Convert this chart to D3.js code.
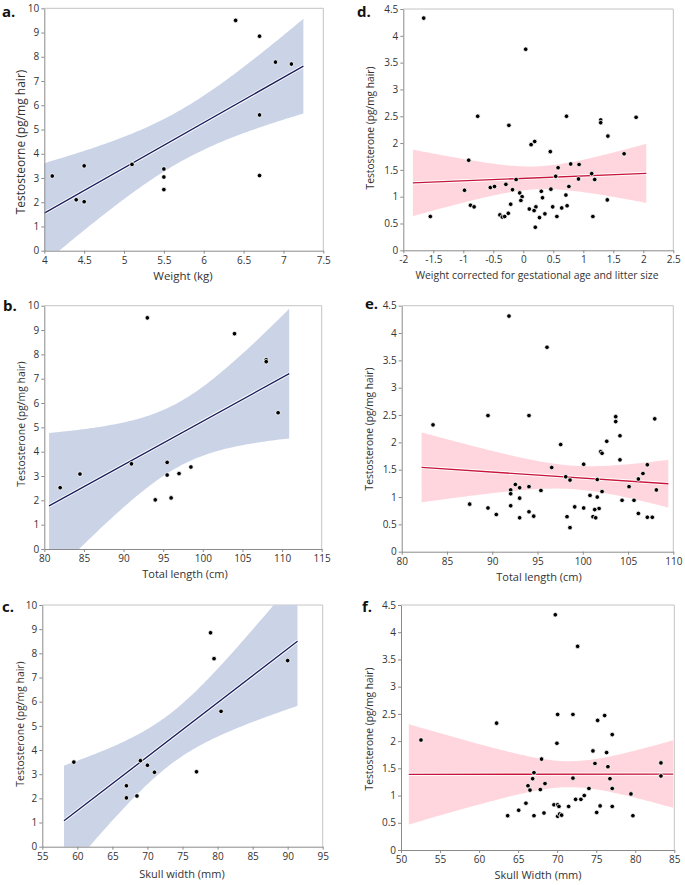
<!DOCTYPE html>
<html>
<head>
<meta charset="utf-8">
<script src="https://cdn.jsdelivr.net/npm/d3@7"></script>
<style>
  html, body { margin: 0; padding: 0; background: #fff; }
  svg text { font-family: "Open Sans", "Noto Sans", sans-serif; }
</style>
</head>
<body>
<svg id="chart" width="685" height="885"></svg>
<script>
// ---------- DATA ----------
// Panel a: weight (kg) vs testosterone
const aX = [4.1, 4.5, 4.4, 4.5, 5.1, 5.5, 5.5, 5.5, 6.4, 6.7, 6.9, 7.1, 6.7, 6.7];
const aY = [3.08, 3.5, 2.1, 2.02, 3.56, 3.37, 3.04, 2.52, 9.5, 8.85, 7.78, 7.7, 5.6, 3.1];
// Panel b: total length (cm)
const bX = [82, 84.5, 91, 93, 94, 95.5, 95.5, 96, 97, 98.5, 104, 108, 108, 109.5];
const bY = [2.52, 3.08, 3.5, 9.5, 2.02, 3.56, 3.04, 2.1, 3.1, 3.37, 8.85, 7.78, 7.7, 5.6];
// Panel c: skull width (mm)
const cX = [59.5, 67, 67, 68.5, 69, 70, 71, 77, 79, 79.5, 80.5, 90];
const cY = [3.5, 2.52, 2.02, 2.1, 3.56, 3.37, 3.08, 3.1, 8.85, 7.78, 5.6, 7.7];
// Panel d: weight corrected for gestational age and litter size
const dX = [-1.66, 0.04, -0.76, -0.24, 0.72, 1.29, 1.29, 1.88, 1.41, 0.13, 0.19, 0.45, 1.68, -0.91,
  0.58, 0.79, 0.93, 1.14, 0.54, 0.92, 1.19, 0.76, 0.30, 0.46, 0.32, 0.71, 0.21, 0.18, 0.49, 0.64,
  0.73, 0.36, 0.27, 0.56, 1.16, 1.40, 0.20, -0.98, -0.55, -0.48, -0.29, -0.12, -0.18, -0.06, -0.02,
  -0.04, -0.21, -0.88, -0.82, -1.55, -0.39, -0.35, -0.31, -0.25, 0.10];
const dY = [4.33, 3.75, 2.5, 2.33, 2.5, 2.43, 2.38, 2.48, 2.13, 1.97, 2.03, 1.84, 1.80, 1.68,
  1.54, 1.61, 1.60, 1.43, 1.38, 1.33, 1.32, 1.19, 1.10, 1.14, 0.98, 1.03, 0.81, 0.74, 0.81, 0.79,
  0.83, 0.68, 0.61, 0.63, 0.63, 0.94, 0.43, 1.12, 1.17, 1.19, 1.23, 1.32, 1.13, 1.07, 1.00,
  0.93, 0.86, 0.84, 0.81, 0.63, 0.66, 0.62, 0.63, 0.69, 0.77];
// Panel e: total length (cm)
const eX = [91.85, 96.05, 83.46, 89.53, 94.06, 103.64, 103.64, 107.95, 104.11, 97.56, 102.65, 101.98,
  102.13, 104.11, 100.1, 107.13, 96.57, 106.65, 98.12, 98.59, 101.6, 106.14, 105.11, 108.13, 95.38,
  102.13, 100.8, 101.6, 104.34, 105.66, 99.11, 100.1, 101.8, 101.32, 106.14, 98.26, 101.13, 101.43,
  107.13, 107.68, 98.59, 92.55, 92.04, 92.04, 93.03, 94.06, 93.03, 87.51, 89.53, 90.45, 92.04,
  93.03, 94.06, 94.58];
const eY = [4.31, 3.74, 2.32, 2.49, 2.49, 2.47, 2.38, 2.43, 2.12, 1.96, 2.02, 1.83,
  1.80, 1.68, 1.60, 1.59, 1.54, 1.43, 1.37, 1.31, 1.32, 1.33, 1.19, 1.13, 1.12,
  1.10, 1.03, 1.00, 0.94, 0.94, 0.82, 0.80, 0.79, 0.77, 0.70, 0.64, 0.64, 0.62,
  0.63, 0.63, 0.44, 1.23, 1.13, 1.06, 1.17, 1.19, 0.98, 0.87, 0.80, 0.68, 0.84,
  0.62, 0.73, 0.65];
// Panel f: skull width (mm)
const fX = [69.76, 72.62, 62.24, 52.56, 70.06, 72.02, 69.97, 68.0, 67.03, 66.86, 72.02, 68.44, 66.26,
  66.52, 67.84, 66.0, 65.07, 63.66, 67.03, 68.31, 69.59, 70.06, 70.23, 70.06, 70.31, 70.57, 71.47,
  72.36, 73.04, 73.47, 74.07, 76.08, 75.18, 77.05, 74.58, 76.33, 74.84, 76.5, 83.29, 83.29, 76.76,
  77.05, 79.45, 75.5, 77.05, 75.06, 79.7];
const fY = [4.32, 3.74, 2.33, 2.02, 2.49, 2.49, 1.96, 1.67, 1.42, 1.31, 1.32, 1.22, 1.18,
  1.10, 1.11, 0.86, 0.73, 0.63, 0.63, 0.68, 0.83, 0.83, 0.80, 0.62, 0.66, 0.64, 0.80,
  0.93, 0.93, 1.00, 1.13, 2.47, 2.38, 2.12, 1.82, 1.79, 1.59, 1.53, 1.60, 1.36, 1.31,
  1.13, 1.03, 0.81, 0.80, 0.69, 0.63];

// Fit-line x ranges
const aFit = [4.0, 7.25];
const bFit = [80.6, 110.9];
const cFit = [58.1, 91.4];
const dFit = [-1.84, 2.05];
const eFit = [82.2, 109.45];
const fFit = [51.0, 84.85];

// Tick values / labels
const aXTicks = [4, 4.5, 5, 5.5, 6, 6.5, 7, 7.5];
const aXLabels = ["4", "4.5", "5", "5.5", "6", "6.5", "7", "7.5"];
const bXTicks = [80, 85, 90, 95, 100, 105, 110, 115];
const bXLabels = ["80", "85", "90", "95", "100", "105", "110", "115"];
const cXTicks = [55, 60, 65, 70, 75, 80, 85, 90, 95];
const cXLabels = ["55", "60", "65", "70", "75", "80", "85", "90", "95"];
const dXTicks = [-2, -1.5, -1, -0.5, 0, 0.5, 1, 1.5, 2, 2.5];
const dXLabels = ["-2", "-1.5", "-1", "-0.5", "0", "0.5", "1", "1.5", "2", "2.5"];
const eXTicks = [80, 85, 90, 95, 100, 105, 110];
const eXLabels = ["80", "85", "90", "95", "100", "105", "110"];
const fXTicks = [50, 55, 60, 65, 70, 75, 80, 85];
const fXLabels = ["50", "55", "60", "65", "70", "75", "80", "85"];
const leftYTicks = [0, 1, 2, 3, 4, 5, 6, 7, 8, 9, 10];
const leftYLabels = ["0", "1", "2", "3", "4", "5", "6", "7", "8", "9", "10"];
const rightYTicks = [0, 0.5, 1, 1.5, 2, 2.5, 3, 3.5, 4, 4.5];
const rightYLabels = ["0", "0.5", "1", "1.5", "2", "2.5", "3", "3.5", "4", "4.5"];

// ---------- DRAWING ----------
const svg = d3.select("#chart");

function tQuantile(df) {
  const z = 1.959964;
  return z + (z ** 3 + z) / (4 * df)
    + (5 * z ** 5 + 16 * z ** 3 + 3 * z) / (96 * df * df)
    + (3 * z ** 7 + 19 * z ** 5 + 17 * z ** 3 - 15 * z) / (384 * df ** 3);
}

function linFit(xs, ys) {
  const n = xs.length;
  const mx = d3.mean(xs), my = d3.mean(ys);
  let sxx = 0, sxy = 0;
  xs.forEach((v, i) => { sxx += (v - mx) ** 2; sxy += (v - mx) * (ys[i] - my); });
  const b = sxy / sxx, a = my - b * mx;
  let sse = 0;
  xs.forEach((v, i) => { sse += (ys[i] - (a + b * v)) ** 2; });
  const s = Math.sqrt(sse / (n - 2));
  const t = tQuantile(n - 2);
  return {
    pred: v => a + b * v,
    half: v => t * s * Math.sqrt(1 / n + (v - mx) ** 2 / sxx)
  };
}

let clipId = 0;
function panel(cfg) {
  const x = d3.scaleLinear().domain(cfg.xDomain).range([cfg.x0, cfg.x1]);
  const y = d3.scaleLinear().domain(cfg.yDomain).range([cfg.y0, cfg.y1]);
  const g = svg.append("g");
  const id = "clip" + (clipId++);
  g.append("clipPath").attr("id", id).append("rect")
    .attr("x", cfg.x0).attr("y", cfg.y1)
    .attr("width", cfg.x1 - cfg.x0).attr("height", cfg.y0 - cfg.y1);

  // frame top/right
  g.append("path")
    .attr("d", `M${cfg.x0},${cfg.y1}H${cfg.x1}V${cfg.y0}`)
    .attr("fill", "none").attr("stroke", "#c4c4c4").attr("stroke-width", 1);

  const fit = linFit(cfg.xs, cfg.ys);
  const samples = d3.range(0, 101).map(i => cfg.fit[0] + (cfg.fit[1] - cfg.fit[0]) * i / 100);
  const plot = g.append("g").attr("clip-path", `url(#${id})`);
  plot.append("path")
    .datum(samples)
    .attr("d", d3.area()
      .x(v => x(v))
      .y0(v => y(fit.pred(v) - fit.half(v)))
      .y1(v => y(fit.pred(v) + fit.half(v))))
    .attr("fill", cfg.band);
  const lineGen = d3.line().x(v => x(v)).y(v => y(fit.pred(v)));
  plot.append("path").datum(cfg.fit).attr("d", lineGen)
    .attr("fill", "none").attr("stroke", "#fff").attr("stroke-width", 3.2);
  plot.append("path").datum(cfg.fit).attr("d", lineGen)
    .attr("fill", "none").attr("stroke", cfg.line).attr("stroke-width", 1.4);

  // axes
  const ax = g.append("g").attr("transform", `translate(0,${cfg.y0})`)
    .call(d3.axisBottom(x).tickValues(cfg.xTicks)
      .tickFormat((d, i) => cfg.xLabels[i]).tickSize(3).tickSizeOuter(0).tickPadding(3));
  const ay = g.append("g").attr("transform", `translate(${cfg.x0},0)`)
    .call(d3.axisLeft(y).tickValues(cfg.yTicks)
      .tickFormat((d, i) => cfg.yLabels[i]).tickSize(3).tickSizeOuter(0).tickPadding(2));
  [ax, ay].forEach(a => {
    a.select(".domain").attr("stroke", "#8a8a8a");
    a.selectAll(".tick line").attr("stroke", "#8a8a8a");
    a.selectAll(".tick text").attr("fill", "#333").style("font-size", "10px")
      .style("font-family", '"Open Sans", sans-serif');
  });

  // points
  g.append("g").selectAll("circle")
    .data(cfg.xs.map((v, i) => [v, cfg.ys[i]]))
    .join("circle")
    .attr("cx", d => x(d[0])).attr("cy", d => y(d[1]))
    .attr("r", 2.3).attr("fill", "#000")
    .attr("stroke", "#fff").attr("stroke-width", 0.8);

  // titles
  g.append("text").attr("x", cfg.xtX).attr("y", cfg.xtY)
    .attr("text-anchor", "middle").attr("fill", "#333")
    .style("font-size", cfg.xtSize + "px").text(cfg.xTitle);
  g.append("text")
    .attr("transform", `translate(${cfg.ytX},${cfg.ytY}) rotate(-90)`)
    .attr("text-anchor", "middle").attr("fill", "#333")
    .style("font-size", cfg.ytSize + "px").text(cfg.yTitle);
  g.append("text").attr("x", cfg.lx).attr("y", cfg.ly)
    .attr("fill", "#111").style("font-size", "15px").style("font-weight", "bold")
    .text(cfg.letter);
}

const blueBand = "#cbd4e7", navy = "#1b1f5c";
const pinkBand = "#ffd6dd", red = "#c8143a";
const yTitle = "Testosterone (pg/mg hair)";

panel({ letter: "a.", lx: 2, ly: 16.5, xs: aX, ys: aY, fit: aFit,
  xDomain: [4, 7.5], yDomain: [0, 10], x0: 44.3, x1: 323.3, y0: 250.7, y1: 8.3,
  xTicks: aXTicks, xLabels: aXLabels, yTicks: leftYTicks, yLabels: leftYLabels,
  band: blueBand, line: navy, xTitle: "Weight (kg)", xtX: 183, xtY: 280, xtSize: 11.5,
  yTitle: "Testosteorne (pg/mg hair)", ytX: 25, ytY: 142, ytSize: 12 });
panel({ letter: "b.", lx: 3, ly: 311, xs: bX, ys: bY, fit: bFit,
  xDomain: [80, 115], yDomain: [0, 10], x0: 44.3, x1: 321.7, y0: 549, y1: 305.7,
  xTicks: bXTicks, xLabels: bXLabels, yTicks: leftYTicks, yLabels: leftYLabels,
  band: blueBand, line: navy, xTitle: "Total length (cm)", xtX: 185, xtY: 578, xtSize: 11,
  yTitle: yTitle, ytX: 24.5, ytY: 424, ytSize: 10.4 });
panel({ letter: "c.", lx: 2, ly: 612, xs: cX, ys: cY, fit: cFit,
  xDomain: [55, 95], yDomain: [0, 10], x0: 42.3, x1: 322.7, y0: 846.7, y1: 605,
  xTicks: cXTicks, xLabels: cXLabels, yTicks: leftYTicks, yLabels: leftYLabels,
  band: blueBand, line: navy, xTitle: "Skull width (mm)", xtX: 182, xtY: 877.5, xtSize: 11,
  yTitle: yTitle, ytX: 23.5, ytY: 724, ytSize: 10.4 });
panel({ letter: "d.", lx: 357, ly: 16.5, xs: dX, ys: dY, fit: dFit,
  xDomain: [-2, 2.5], yDomain: [0, 4.5], x0: 403.3, x1: 673.3, y0: 250.3, y1: 9,
  xTicks: dXTicks, xLabels: dXLabels, yTicks: rightYTicks, yLabels: rightYLabels,
  band: pinkBand, line: red, xTitle: "Weight corrected for gestational age and litter size",
  xtX: 537, xtY: 278.5, xtSize: 10.4,
  yTitle: yTitle, ytX: 374, ytY: 128, ytSize: 10.2 });
panel({ letter: "e.", lx: 365, ly: 309, xs: eX, ys: eY, fit: eFit,
  xDomain: [80, 110], yDomain: [0, 4.5], x0: 401.7, x1: 673.3, y0: 551.7, y1: 305.7,
  xTicks: eXTicks, xLabels: eXLabels, yTicks: rightYTicks, yLabels: rightYLabels,
  band: pinkBand, line: red, xTitle: "Total length (cm)", xtX: 539, xtY: 581, xtSize: 11,
  yTitle: yTitle, ytX: 373, ytY: 429, ytSize: 10.2 });
panel({ letter: "f.", lx: 362, ly: 612, xs: fX, ys: fY, fit: fFit,
  xDomain: [50, 85], yDomain: [0, 4.5], x0: 401, x1: 674.3, y0: 850, y1: 605,
  xTicks: fXTicks, xLabels: fXLabels, yTicks: rightYTicks, yLabels: rightYLabels,
  band: pinkBand, line: red, xTitle: "Skull Width (mm)", xtX: 538, xtY: 879, xtSize: 11,
  yTitle: yTitle, ytX: 373, ytY: 729, ytSize: 10.2 });
</script>
</body>
</html>
